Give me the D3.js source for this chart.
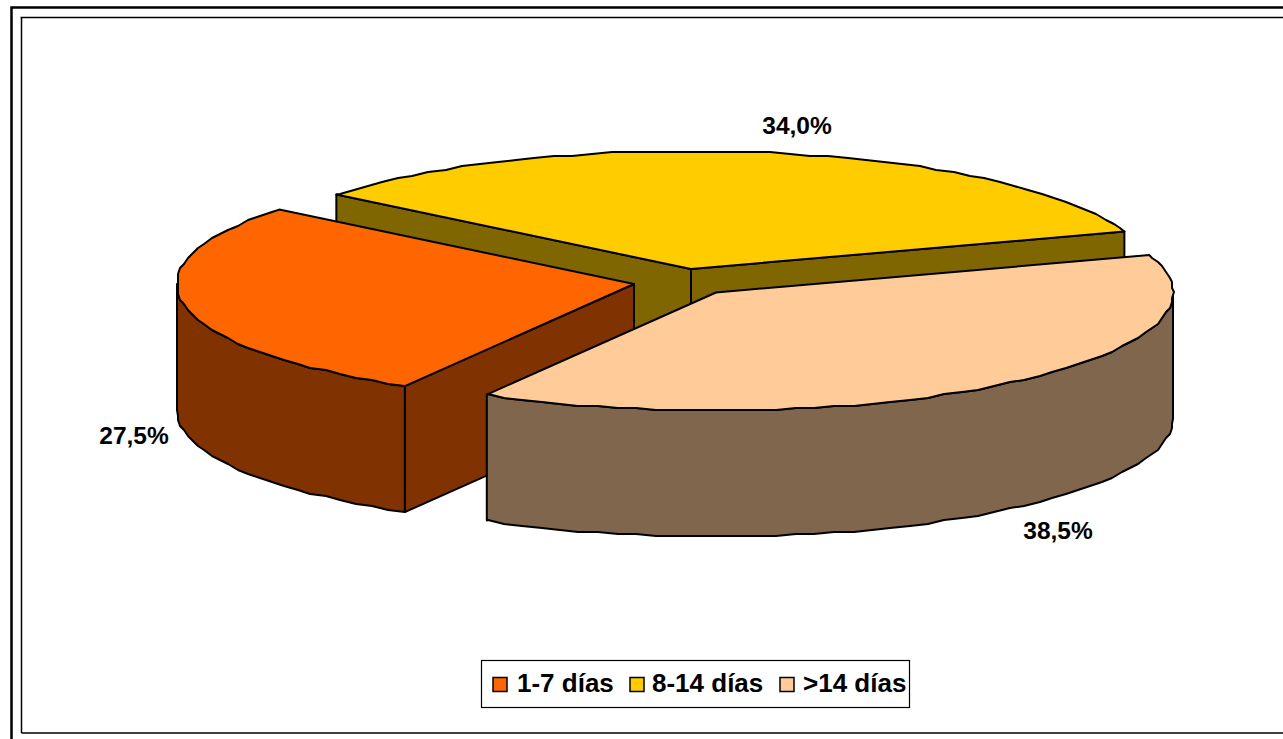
<!DOCTYPE html>
<html>
<head>
<meta charset="utf-8">
<script src="https://cdnjs.cloudflare.com/ajax/libs/d3/7.8.5/d3.min.js"></script>
<style>
  html, body { margin: 0; padding: 0; background: #fff; overflow: hidden; }
  svg { display: block; }
  text { font-family: "Liberation Sans", Arial, sans-serif; font-weight: bold; fill: #000; }
</style>
</head>
<body>
<div id="chart"></div>
<script>
var categories = ["1-7 días", "8-14 días", ">14 días"];
var values = [27.5, 34.0, 38.5];
var topColors = ["#FF6600", "#FFCC00", "#FFCC99"];
var wallColors = ["#803300", "#806600", "#80664D"];

var width = 1283, height = 739;

var svg = d3.select("#chart").append("svg")
  .attr("width", width)
  .attr("height", height);

// the two frames, both run off the right edge of the picture
svg.append("path")
  .attr("d", "M11.5,739V7.5H1283")
  .attr("fill", "none").attr("stroke", "#000").attr("stroke-width", 2.5);
svg.append("path")
  .attr("d", "M21.5,733V17.5M21.5,733H1283M20.5,17.5H1283")
  .attr("fill", "none").attr("stroke", "#000").attr("stroke-width", 1.5);

// unit circle -> tilted ellipse
var x = d3.scaleLinear().domain([-1, 1]).range([-457, 457]);
var y = d3.scaleLinear().domain([-1, 1]).range([-118, 118]);
var depth = 126;
var sliceCenter = [[634, 284], [691, 269], [716, 292.5]]; // each slice is pulled out on its own

var deg = Math.PI / 180;
var step = 2.5 * deg;
var pie = d3.pie().sort(null)
  .startAngle(210.1 * deg)
  .endAngle(570.1 * deg);
var slices = pie(values);

var line = d3.line().curve(d3.curveLinear);
var snap = function (v) { return Math.round(v / 2) * 2; };

// rim points between two angles, on a fixed angle grid and snapped,
// so the top and the wall share the same rough edge
function rim(a0, a1, c) {
  var pts = [[c[0] + x(Math.sin(a0)), c[1] + y(-Math.cos(a0))]];
  for (var k = Math.floor(a0 / step) + 1; k * step < a1; k++) {
    pts.push([snap(c[0] + x(Math.sin(k * step))), snap(c[1] + y(-Math.cos(k * step)))]);
  }
  pts.push([c[0] + x(Math.sin(a1)), c[1] + y(-Math.cos(a1))]);
  return pts;
}

function drawPath(pts, fill) {
  svg.append("path")
    .attr("d", line(pts) + "Z")
    .attr("fill", fill)
    .attr("stroke", "#000")
    .attr("stroke-width", 2)
    .attr("stroke-linejoin", "round");
}

function down(p) { return [p[0], p[1] + depth]; }

// yellow at the back, then orange, then peach
[1, 0, 2].forEach(function (k) {
  var s = slices[k];
  var c = sliceCenter[k];
  var edge = rim(s.startAngle, s.endAngle, c);
  var first = edge[0], last = edge[edge.length - 1];

  // radial walls, only the ones turned toward the viewer
  if (Math.sin(s.startAngle) < 0) drawPath([c, first, down(first), down(c)], wallColors[k]);
  if (Math.sin(s.endAngle) > 0) drawPath([c, last, down(last), down(c)], wallColors[k]);

  // outer wall, only the front half of the circle shows
  [[90, 270], [450, 630]].forEach(function (r) {
    var a0 = Math.max(s.startAngle, r[0] * deg);
    var a1 = Math.min(s.endAngle, r[1] * deg);
    if (a1 <= a0) return;
    var front = rim(a0, a1, c);
    drawPath(front.concat(front.map(down).reverse()), wallColors[k]);
  });

  drawPath([c].concat(edge), topColors[k]);
});

// data labels
var labelPos = [[134, 435], [797, 125], [1058, 530]];
svg.selectAll("text.label")
  .data(values)
  .enter().append("text")
  .attr("class", "label")
  .attr("x", function (d, i) { return labelPos[i][0]; })
  .attr("y", function (d, i) { return labelPos[i][1]; })
  .attr("dy", "0.35em")
  .attr("text-anchor", "middle")
  .style("font-size", "24.5px")
  .text(function (d) { return d.toFixed(1).replace(".", ",") + "%"; });

// legend
svg.append("rect")
  .attr("x", 481.5).attr("y", 660.5)
  .attr("width", 428).attr("height", 47)
  .attr("fill", "#fff").attr("stroke", "#000").attr("stroke-width", 1.2);

var swatchX = [493, 630, 780];
var legendTextX = [517, 652, 803];
categories.forEach(function (c, i) {
  svg.append("rect")
    .attr("x", swatchX[i]).attr("y", 677.5)
    .attr("width", 14).attr("height", 14)
    .attr("fill", topColors[i])
    .attr("stroke", "#000").attr("stroke-width", 1.5);
  svg.append("text")
    .attr("x", legendTextX[i]).attr("y", 692)
    .style("font-size", "26px")
    .text(c);
});
</script>
</body>
</html>
